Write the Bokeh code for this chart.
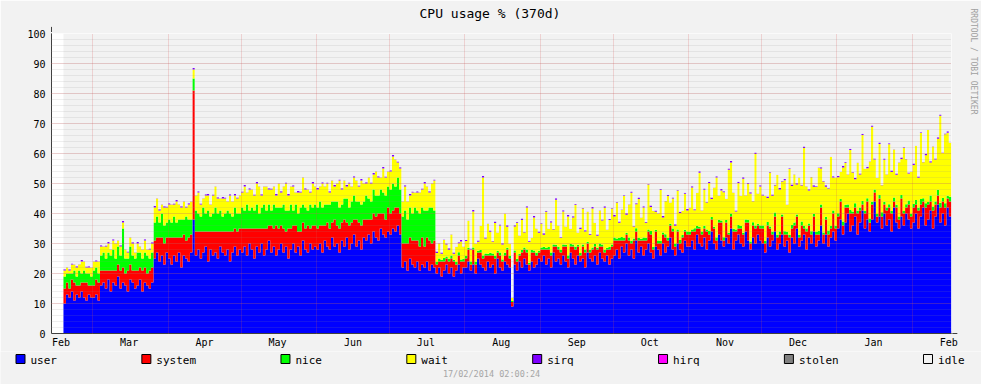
import numpy as np
import pandas as pd
from bokeh.plotting import figure
from bokeh.layouts import column
from bokeh.core.properties import value
from bokeh.models import (ColumnDataSource, Range1d, SingleIntervalTicker, FixedTicker,
                          DatetimeTickFormatter, Title, Arrow, NormalHead, Label)
from bokeh.embed import file_html
from bokeh.resources import INLINE

# ---------------- data (daily averages, % CPU) ----------------
first_day = "2013-02-17"
range_start = "2013-02-12 02:00"
range_end = "2014-02-17 02:00"
month_starts = ["2013-02-01", "2013-03-01", "2013-04-01", "2013-05-01", "2013-06-01",
                "2013-07-01", "2013-08-01", "2013-09-01", "2013-10-01", "2013-11-01",
                "2013-12-01", "2014-01-01", "2014-02-01"]

user = [
    10,13,12,14,11,13,12,14,12,11,13,12,
    12,13,11,16,17,15,18,14,17,16,19,15,17,16,14,18,17,15,16,18,14,17,16,15,17,25,27,24,26,23,27,
    25,23,26,24,27,22,26,25,24,27,38,26,28,25,27,29,24,28,26,27,25,29,27,26,28,24,27,29,26,28,
    27,29,26,30,28,25,29,27,30,26,28,31,27,29,26,28,30,27,29,25,28,30,27,29,26,31,28,27,30,28,29,
    28,30,27,31,29,28,32,29,30,27,31,29,32,28,30,33,29,31,28,32,31,33,30,34,32,31,35,33,32,34,
    33,35,34,36,33,22,24,21,25,23,22,24,21,23,22,24,21,23,22,20,22,19,21,23,20,22,19,21,23,20,22,
    22,24,21,23,20,25,23,22,21,24,22,23,20,25,22,21,24,23,22,9,23,21,24,22,25,23,21,24,22,23,25,
    24,26,23,25,22,27,24,25,23,26,24,22,27,25,23,26,24,25,22,27,25,24,26,23,27,25,24,26,23,25,
    26,28,25,29,27,30,26,28,25,31,27,29,26,28,30,27,25,29,28,26,30,27,29,32,28,26,30,28,27,31,29,
    29,31,28,33,30,29,32,28,31,34,30,28,33,31,29,32,30,35,28,31,33,30,29,34,31,28,32,30,33,31,
    30,27,32,29,31,34,28,30,33,29,31,27,32,30,35,29,31,33,28,32,30,34,29,31,36,30,33,29,32,34,31,
    35,38,33,37,40,34,36,39,33,37,41,35,38,34,38,44,37,39,35,40,36,38,34,42,37,35,39,36,40,38,35,
    37,40,35,39,42,36,38,41,35,39,43,37,40,36,42,39,
]
system = [
    5,4,3,4,6,3,4,3,5,6,3,4,
    4,5,6,5,4,6,3,7,4,5,4,6,5,4,7,5,4,6,5,4,7,5,4,6,5,6,5,8,6,7,5,
    7,9,6,8,5,10,7,6,8,6,43,8,6,9,7,5,10,6,8,7,9,5,7,8,6,10,7,6,8,7,
    8,6,9,5,7,10,6,8,5,9,7,5,9,6,10,7,6,8,5,10,7,6,9,5,8,6,7,9,5,8,7,
    7,6,9,5,8,7,5,9,6,8,6,9,5,8,7,5,9,6,8,6,7,5,8,6,7,9,5,7,6,8,
    7,6,8,6,7,8,6,9,7,8,9,7,8,9,7,8,10,7,9,3,2,5,3,2,4,3,5,2,3,4,2,
    3,4,2,5,3,2,4,3,5,2,4,3,5,2,4,3,2,5,3,1.5,4,3,2,5,3,4,2,3,5,3,2,
    4,2,5,3,4,2,5,3,4,3,5,3,2,4,5,3,2,4,5,3,2,4,3,5,2,4,3,2,5,4,
    5,3,6,2,4,3,5,2,6,3,4,2,5,3,4,6,3,5,2,4,3,5,2,4,6,3,4,2,5,3,4,
    4,3,6,2,5,4,3,6,2,4,5,3,4,6,2,5,3,4,6,3,2,5,4,3,6,2,4,5,3,4,
    5,3,4,6,2,5,4,3,6,4,2,5,3,6,4,3,5,2,6,4,3,5,4,2,6,3,5,4,3,6,4,
    4,6,3,5,2,6,4,3,7,4,2,5,6,3,5,3,2,6,4,3,5,4,6,2,5,3,6,4,2,5,4,
    5,3,6,4,2,6,5,3,6,4,3,5,4,6,3,5,
]
nice = [
    4,3,5,2,4,3,5,3,4,3,4,3,
    5,4,3,5,6,4,6,5,7,4,6,5,13,5,4,6,5,4,6,5,4,5,6,4,5,6,7,5,8,6,5,
    6,5,7,5,6,6,5,8,6,5,4,7,6,5,8,6,7,5,6,8,6,7,5,6,7,6,5,7,6,5,
    7,6,8,6,7,6,8,5,7,8,6,7,5,8,6,7,6,8,7,6,8,5,7,6,8,6,7,5,8,6,7,
    7,8,6,7,6,8,7,6,8,7,6,7,8,6,7,8,6,7,7,6,8,7,6,8,7,6,8,7,8,7,
    8,9,7,10,8,9,11,8,10,9,11,10,11,10,12,9,11,12,10,0.8,1,0.6,1.2,0.7,0.9,1,0.6,0.8,1.1,0.7,0.9,
    0.8,0.6,1,0.7,0.9,0.6,0.8,1,0.7,0.6,0.9,0.7,0.8,0.6,1,0.7,0.9,0.6,0.8,0.3,0.7,0.9,0.6,0.8,0.7,1,0.6,0.8,0.7,0.9,0.6,
    0.7,0.9,0.6,0.8,1,0.7,0.6,0.9,0.8,0.7,0.6,1,0.8,0.7,0.9,0.6,0.8,0.7,1,0.6,0.9,0.7,0.8,0.6,1,0.7,0.9,0.6,0.8,0.7,
    1,0.7,0.9,1.2,0.8,0.6,1,0.9,0.7,1.1,0.8,0.6,1,0.9,0.7,1.2,0.8,0.6,1,0.9,0.7,1.1,0.8,0.6,1,0.9,0.7,1.2,0.8,0.6,1,
    0.9,0.7,1.1,0.8,0.6,1,0.9,0.7,1.2,0.8,0.6,1,0.9,0.7,1.1,0.8,0.6,1,0.9,0.7,1.2,0.8,0.6,1,0.9,0.7,1.1,0.8,0.6,1,
    1,0.8,1.2,0.7,0.9,1.3,0.8,1,0.7,1.1,0.9,0.8,1.2,1,0.7,0.9,1.3,0.8,1,0.7,1.1,0.9,0.8,1.2,1,0.7,0.9,1.3,0.8,1,0.9,
    1.1,0.8,1.3,0.9,1,1.2,0.7,1.4,0.9,1,1.2,0.8,1.1,1.3,0.9,1,0.8,1.2,1.4,0.9,1,1.1,0.8,1.3,0.9,1,1.2,0.8,1.1,1.3,0.9,
    1.2,1.5,0.9,1.8,1.1,1.4,0.8,2,1.3,1,1.9,1.6,1.2,1.4,0.9,1.6,
]
wait = [
    2,2,1,3,2,3,2,4,3,2,2,3,
    3,2,4,3,2,4,3,2,3,5,2,3,2,3,2,3,4,2,3,2,3,4,2,3,3,5,6,4,3,6,5,
    5,6,4,7,5,4,6,3,5,6,3,5,7,4,3,6,5,4,6,7,5,4,6,5,3,6,5,4,5,6,
    5,8,4,7,6,5,7,9,4,6,8,5,7,6,4,8,5,6,9,5,6,8,4,7,5,9,6,7,4,8,6,
    6,5,8,6,7,4,7,5,6,9,5,6,4,8,5,6,7,5,8,6,4,7,6,5,8,6,4,8,6,5,
    6,9,9,5,7,5,8,6,4,7,5,6,7,6,9,8,5,8,10,3,5,2,6,4,3,7,2,5,3,6,4,
    5,9,4,12,6,3,8,26,5,10,7,4,11,6,9,5,13,7,4,1,8,12,6,10,5,14,7,4,11,8,6,
    8,4,12,6,10,5,15,7,4,11,6,13,5,9,14,4,8,12,6,10,5,13,7,4,11,8,14,6,9,12,
    7,12,5,9,14,6,11,16,4,8,13,7,10,5,15,8,12,6,9,17,5,11,14,7,10,6,13,9,8,12,7,
    8,14,6,11,18,7,12,9,16,6,13,20,8,10,15,7,21,17,12,6,14,10,18,8,12,16,7,24,10,13,
    10,15,8,18,12,9,20,14,11,17,9,22,13,16,10,19,12,26,14,11,18,9,15,21,12,17,10,14,23,11,16,
    12,9,18,14,10,20,13,8,16,11,22,14,10,19,25,10,12,17,9,14,11,20,13,16,10,18,12,21,15,9,14,
    13,18,10,22,12,16,24,11,20,14,17,29,15,23,21,18,
]
sirq = [
    0.4,0.1,0.4,0.3,0.1,0.4,0.1,0.5,0.1,0.3,0.4,0.1,
    0.1,0.4,0.1,0.4,0.1,0.3,0.5,0.1,0.4,0.1,0.1,0.4,0.5,0.1,0.3,0.1,0.4,0.1,0.5,0.1,0.1,0.4,0.1,0.3,0.4,0.5,0.1,0.4,0.1,0.4,0.3,
    0.4,0.1,0.3,0.5,0.1,0.4,0.1,0.3,0.4,0.1,0.5,0.1,0.4,0.3,0.1,0.4,0.5,0.1,0.3,0.1,0.4,0.1,0.5,0.3,0.1,0.4,0.1,0.5,0.3,0.1,
    0.3,0.5,0.1,0.4,0.1,0.3,0.5,0.1,0.4,0.1,0.1,0.4,0.3,0.1,0.5,0.1,0.4,0.1,0.3,0.5,0.1,0.4,0.1,0.5,0.3,0.1,0.4,0.1,0.3,0.5,0.1,
    0.5,0.1,0.4,0.1,0.3,0.4,0.1,0.5,0.1,0.3,0.4,0.1,0.5,0.3,0.1,0.4,0.1,0.3,0.5,0.1,0.4,0.1,0.3,0.5,0.1,0.4,0.1,0.5,0.3,0.1,
    0.4,0.5,0.1,0.3,0.4,0.1,0.4,0.1,0.5,0.3,0.1,0.4,0.1,0.3,0.5,0.1,0.4,0.1,0.3,0.5,0.1,0.4,0.1,0.3,0.5,0.1,0.4,0.1,0.3,0.5,0.1,
    0.4,0.1,0.3,0.5,0.1,0.4,0.1,0.5,0.3,0.1,0.4,0.1,0.5,0.1,0.3,0.4,0.1,0.5,0.1,0.1,0.4,0.3,0.1,0.5,0.1,0.4,0.3,0.1,0.5,0.1,0.4,
    0.1,0.5,0.3,0.1,0.4,0.1,0.5,0.1,0.3,0.4,0.1,0.5,0.1,0.4,0.3,0.1,0.5,0.1,0.4,0.1,0.3,0.5,0.1,0.4,0.1,0.3,0.5,0.1,0.4,0.1,
    0.5,0.1,0.4,0.1,0.3,0.5,0.1,0.4,0.1,0.3,0.5,0.1,0.4,0.3,0.1,0.5,0.1,0.4,0.1,0.3,0.5,0.1,0.4,0.1,0.3,0.5,0.1,0.4,0.1,0.3,0.5,
    0.1,0.4,0.3,0.1,0.5,0.1,0.4,0.1,0.3,0.5,0.1,0.4,0.1,0.5,0.3,0.1,0.4,0.5,0.1,0.3,0.4,0.1,0.5,0.1,0.3,0.4,0.1,0.5,0.1,0.4,
    0.3,0.1,0.5,0.1,0.4,0.3,0.1,0.5,0.1,0.4,0.1,0.3,0.5,0.1,0.4,0.1,0.3,0.5,0.1,0.4,0.1,0.5,0.3,0.1,0.4,0.1,0.5,0.3,0.1,0.4,0.1,
    0.4,0.1,0.5,0.3,0.1,0.4,0.1,0.5,0.1,0.3,0.4,0.1,0.5,0.1,0.4,0.3,0.1,0.5,0.1,0.4,0.1,0.3,0.5,0.1,0.4,0.1,0.5,0.3,0.1,0.4,0.1,
    0.5,0.1,0.4,0.3,0.1,0.5,0.1,0.4,0.1,0.3,0.5,0.4,0.1,0.3,0.5,0.1,
]
series = ["user", "system", "nice", "wait", "sirq", "hirq", "stolen", "idle"]
colors = ["#0000FF", "#FF0000", "#00FF00", "#FFFF00", "#7F00FF", "#FF00FF", "#808080", "#F2F2F2"]
title_text = "CPU usage % (370d)"
stamp_text = "17/02/2014 02:00:24"
credit_text = "RRDTOOL / TOBI OETIKER"

lens = [len(user), len(system), len(nice), len(wait), len(sirq)]
assert len(set(lens)) == 1, lens

# ---------------- derived ----------------
DAY = 86400000.0
BG = "#F2F2F2"
MONO = "DejaVu Sans Mono"
t0 = pd.Timestamp(range_start).value / 1e6
t1 = pd.Timestamp(range_end).value / 1e6
n = len(user)
edges = pd.date_range(first_day, periods=n + 1, freq="D")
stack = np.array([user, system, nice, wait, sirq], dtype=float)
tops = np.cumsum(stack, axis=0)
bottoms = np.vstack([np.zeros(n), tops[:-1]])
idle = 100.0 - tops[-1]


def ext(a):
    return np.append(a, a[-1])   # hold last value to the closing edge


ms_starts = [pd.Timestamp(m).value / 1e6 for m in month_starts]
label_ticks = [m + 15 * DAY for m in ms_starts]
grid_ticks = [m for m in ms_starts if t0 < m < t1]

# ---------------- main chart ----------------
p = figure(width=981, height=351, title=None, x_axis_type="datetime",
           output_backend="svg", toolbar_location=None,
           x_range=Range1d(t0, t1), y_range=Range1d(0, 100),
           min_border_left=51, min_border_right=30, min_border_top=33, min_border_bottom=18)
p.background_fill_color = "white"
p.border_fill_color = BG
p.outline_line_color = None

layer_cols = [colors[0], colors[1], colors[2], colors[3], colors[4]]
for k in range(5):
    src = ColumnDataSource(dict(x=edges, lo=ext(bottoms[k]), hi=ext(tops[k])))
    p.varea_step(x="x", y1="lo", y2="hi", step_mode="after", source=src, fill_color=layer_cols[k])
src_idle = ColumnDataSource(dict(x=edges, lo=ext(tops[-1]), hi=ext(tops[-1] + idle)))
p.varea_step(x="x", y1="lo", y2="hi", step_mode="after", source=src_idle, fill_color=colors[7])

for ax in (p.xaxis, p.yaxis):
    ax.axis_line_color = "#404040"
    ax.axis_line_width = 1
    ax.major_tick_line_color = None
    ax.minor_tick_line_color = None
    ax.major_tick_in = 0
    ax.major_tick_out = 0
    ax.minor_tick_in = 0
    ax.minor_tick_out = 0
    ax.major_label_text_font = MONO
    ax.major_label_text_font_size = "10px"
    ax.major_label_text_color = "#000000"

p.yaxis.ticker = SingleIntervalTicker(interval=10, num_minor_ticks=5)
p.yaxis.major_label_standoff = 6
p.xaxis.ticker = FixedTicker(ticks=label_ticks)
fmt = "%b"
p.xaxis.formatter = DatetimeTickFormatter(microseconds=fmt, milliseconds=fmt, seconds=fmt,
                                          minsec=fmt, minutes=fmt, hourmin=fmt, hours=fmt,
                                          days=fmt, months=fmt, years=fmt)
p.xaxis.major_label_standoff = 3

p.xgrid.ticker = FixedTicker(ticks=grid_ticks)
for g in (p.xgrid, p.ygrid):
    g.grid_line_color = "#DE5050"
    g.grid_line_alpha = 0.4
    g.grid_line_dash = "1 1"
    g.level = "overlay"
p.ygrid.minor_grid_line_color = "#8F8F8F"
p.ygrid.minor_grid_line_alpha = 0.3
p.ygrid.minor_grid_line_dash = "1 1"

head = dict(size=5, fill_color="#7F1F1F", line_color="#7F1F1F")
p.add_layout(Arrow(end=NormalHead(**head), x_start=t0, y_start=99, x_end=t0, y_end=102.2,
                   line_color="#404040", line_width=1))
p.add_layout(Arrow(end=NormalHead(**head), x_start=t1 - 2 * DAY, y_start=0, x_end=t1 + 2.4 * DAY,
                   y_end=0, line_color="#404040", line_width=1))

p.add_layout(Title(text=" ", text_font_size="1px", standoff=10), "above")
p.add_layout(Title(text=title_text, align="left", offset=368, standoff=0,
                   vertical_align="bottom", text_font=MONO,
                   text_font_size="13px", text_font_style="normal", text_color="#000000"), "above")

p.add_layout(Title(text=" ", text_font_size="1px", standoff=13), "right")
p.add_layout(Title(text=credit_text, align="left", offset=-25, standoff=0,
                   vertical_align="middle", text_font=MONO,
                   text_font_size="8px", text_font_style="normal", text_color="#A0A0A0"), "right")

# ---------------- legend strip (pixel coordinates, rrdtool-style justified) ----------------
STRIP_H = 33
q = figure(width=981, height=STRIP_H, title=None, output_backend="svg", toolbar_location=None,
           x_range=Range1d(0, 981), y_range=Range1d(0, STRIP_H),
           x_axis_location=None, y_axis_location=None,
           min_border_left=0, min_border_right=0, min_border_top=0, min_border_bottom=0)
q.grid.visible = False
q.background_fill_color = BG
q.border_fill_color = BG
q.outline_line_color = None
# keep the strip's frame independent from the chart's frame
for fig in (p, q):
    try:
        fig.frame_align = False
    except AttributeError:
        pass

LEG_LEFT, LEG_RIGHT = 15, 964
SW, GAP_TXT = 10, 5
char_w = 0.6021 * 11
item_w = np.array([SW + GAP_TXT + len(s) * char_w for s in series])
gap = (LEG_RIGHT - LEG_LEFT - item_w.sum()) / (len(series) - 1)
item_x = LEG_LEFT + np.concatenate([[0.0], np.cumsum(item_w[:-1] + gap)])
leg_src = ColumnDataSource(dict(sx=item_x + SW / 2, tx=item_x + SW + GAP_TXT,
                                sy=np.full(len(series), STRIP_H - 7.5),
                                ty=np.full(len(series), STRIP_H - 8.5),
                                label=series, color=colors))
q.rect(x="sx", y="sy", width=SW - 1, height=SW - 1, source=leg_src, fill_color="color",
       line_color="#000000", line_width=1)
q.text(x="tx", y="ty", text="label", source=leg_src, text_font=value(MONO),
       text_font_size="11px", text_baseline="middle", text_align="left", text_color="#000000")
q.add_layout(Label(x=491, y=11, text=stamp_text, text_align="center", text_baseline="middle",
                   text_font=MONO, text_font_size="8.5px", text_color="#A6A6A6"))

layout = column(p, q, spacing=0)
open("out.html", "w").write(file_html(layout, INLINE))
